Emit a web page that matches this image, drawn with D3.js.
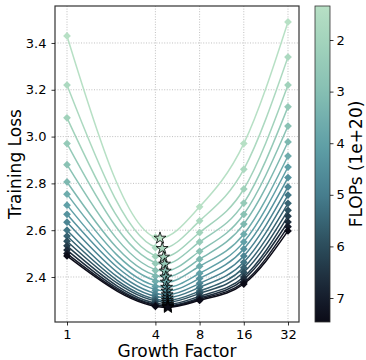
<!DOCTYPE html>
<html>
<head>
<meta charset="utf-8">
<script src="https://cdn.jsdelivr.net/npm/d3@7/dist/d3.min.js"></script>
<style>
  html, body { margin: 0; padding: 0; background: #fff; }
  svg { display: block; font-family: "DejaVu Sans", sans-serif; }
</style>
</head>
<body>
<svg id="chart" width="366" height="360"></svg>
<script>
// Growth factors at which each compute budget was evaluated
const growthFactors = [1, 4, 8, 16, 32];
const xTickValues = [1, 4, 8, 16, 32];
const yTickValues = [2.4, 2.6, 2.8, 3.0, 3.2, 3.4];
const cbarTickValues = [2, 3, 4, 5, 6, 7];

// Compute budgets (units of 1e20 FLOPs), one curve each
const flops = [1.34, 1.72, 2.11, 2.49, 2.87, 3.25, 3.64, 4.02, 4.40, 4.79, 5.17, 5.55, 5.93, 6.32, 6.70, 7.08, 7.47];

// Training loss per compute budget, one array per growth factor
const lossG1  = [3.43, 3.22, 3.08, 2.97, 2.88, 2.806, 2.754, 2.707, 2.668, 2.634, 2.60, 2.575, 2.553, 2.533, 2.515, 2.50, 2.49];
const lossG4  = [2.57, 2.525, 2.488, 2.458, 2.428, 2.403, 2.381, 2.359, 2.343, 2.327, 2.314, 2.303, 2.295, 2.286, 2.280, 2.277, 2.274];
const lossG8  = [2.70, 2.64, 2.59, 2.55, 2.51, 2.476, 2.446, 2.416, 2.394, 2.373, 2.356, 2.34, 2.33, 2.318, 2.31, 2.305, 2.30];
const lossG16 = [2.97, 2.86, 2.776, 2.716, 2.668, 2.626, 2.583, 2.55, 2.52, 2.49, 2.463, 2.44, 2.42, 2.40, 2.39, 2.377, 2.37];
const lossG32 = [3.49, 3.34, 3.22, 3.127, 3.045, 2.977, 2.917, 2.87, 2.825, 2.785, 2.75, 2.715, 2.685, 2.66, 2.635, 2.615, 2.597];

// Minimum of each fitted curve: optimal growth factor and its loss
const optimalGrowth = [4.3, 4.45, 4.55, 4.62, 4.67, 4.71, 4.74, 4.77, 4.79, 4.81, 4.82, 4.83, 4.84, 4.85, 4.86, 4.86, 4.87];
const optimalLoss   = [2.566, 2.522, 2.485, 2.455, 2.425, 2.40, 2.378, 2.356, 2.34, 2.324, 2.311, 2.30, 2.292, 2.283, 2.277, 2.274, 2.27];

const lossByGrowth = [lossG1, lossG4, lossG8, lossG16, lossG32];

const svg = d3.select("#chart");
const plot = { left: 55, right: 299, top: 6, bottom: 322 };
const cbar = { left: 315, right: 330, top: 6, bottom: 322 };

const x = d3.scaleLog().base(2)
  .domain([Math.pow(2, -0.2715), Math.pow(2, 5.249)])
  .range([plot.left, plot.right]);
const y = d3.scaleLinear()
  .domain([2.2077, 3.558])
  .range([plot.bottom, plot.top]);

// Colour map: light mint for small budgets down to near-black for large ones
const fMin = 1.341, fMax = 7.465;
const stopPos = [fMin, 2, 3, 4, 5, 6, 7, fMax];
const stopCol = ["#b7e0c5", "#a4d4bc", "#86bfb3", "#61a1a8", "#467e8e", "#2b4c5b", "#161d2c", "#0b0b17"];
const color = d3.scaleLinear().domain(stopPos).range(stopCol).interpolate(d3.interpolateRgb);

// Grid
const grid = svg.append("g");
grid.selectAll("line.gx").data(xTickValues).join("line")
  .attr("x1", d => x(d)).attr("x2", d => x(d))
  .attr("y1", plot.top).attr("y2", plot.bottom)
  .attr("stroke", "#b0b0b0").attr("stroke-width", 0.8).attr("stroke-dasharray", "1,1.6");
grid.selectAll("line.gy").data(yTickValues).join("line")
  .attr("y1", d => y(d)).attr("y2", d => y(d))
  .attr("x1", plot.left).attr("x2", plot.right)
  .attr("stroke", "#b0b0b0").attr("stroke-width", 0.8).attr("stroke-dasharray", "1,1.6");

// Fitted curves and measured points
const curves = flops.map((f, i) => ({
  f,
  points: growthFactors.map((g, j) => ({ g, loss: lossByGrowth[j][i] })),
  opt: { g: optimalGrowth[i], loss: optimalLoss[i] }
}));

const line = d3.line()
  .x(d => x(d.g)).y(d => y(d.loss))
  .curve(d3.curveMonotoneX);

const marks = svg.append("g");
curves.forEach(c => {
  const pathPts = [c.points[0], c.opt, ...c.points.slice(2)];
  marks.append("path")
    .attr("d", line(pathPts))
    .attr("fill", "none")
    .attr("stroke", color(c.f))
    .attr("stroke-width", 1.5);
  marks.selectAll(null).data(c.points).join("path")
    .attr("d", d3.symbol(d3.symbolSquare, 30)())
    .attr("transform", d => `translate(${x(d.g)},${y(d.loss)}) rotate(45)`)
    .attr("fill", color(c.f));
});

// Optimal growth factor for each budget
svg.append("g").selectAll("path").data(curves).join("path")
  .attr("d", d3.symbol(d3.symbolStar, 44)())
  .attr("transform", d => `translate(${x(d.opt.g)},${y(d.opt.loss)})`)
  .attr("fill", d => color(d.f))
  .attr("stroke", "#000")
  .attr("stroke-width", 0.8);

// Frame
svg.append("rect")
  .attr("x", plot.left).attr("y", plot.top)
  .attr("width", plot.right - plot.left).attr("height", plot.bottom - plot.top)
  .attr("fill", "none").attr("stroke", "#333").attr("stroke-width", 1.2);

// Axes
const xAxis = svg.append("g")
  .attr("transform", `translate(0,${plot.bottom})`)
  .call(d3.axisBottom(x).tickValues(xTickValues).tickFormat(d3.format("d")).tickSize(3.5).tickPadding(4));
const yAxis = svg.append("g")
  .attr("transform", `translate(${plot.left},0)`)
  .call(d3.axisLeft(y).tickValues(yTickValues).tickFormat(d3.format(".1f")).tickSize(3.5).tickPadding(5));
[xAxis, yAxis].forEach(a => {
  a.select(".domain").remove();
  a.selectAll("text").attr("font-size", 13).attr("font-family", "DejaVu Sans").attr("fill", "#000");
  a.selectAll("line").attr("stroke", "#000").attr("stroke-width", 0.8);
});

svg.append("text")
  .attr("x", (plot.left + plot.right) / 2).attr("y", 357)
  .attr("text-anchor", "middle").attr("font-size", 17)
  .text("Growth Factor");
svg.append("text")
  .attr("transform", `translate(21,${(plot.top + plot.bottom) / 2}) rotate(-90)`)
  .attr("text-anchor", "middle").attr("font-size", 17)
  .text("Training Loss");

// Colour bar
const cy = d3.scaleLinear().domain([fMin, fMax]).range([cbar.top, cbar.bottom]);
const defs = svg.append("defs");
const grad = defs.append("linearGradient").attr("id", "flopsGrad")
  .attr("x1", 0).attr("x2", 0).attr("y1", 0).attr("y2", 1);
d3.range(0, 1.0001, 0.05).forEach(t => {
  const v = fMin + t * (fMax - fMin);
  grad.append("stop").attr("offset", t).attr("stop-color", color(v));
});
svg.append("rect")
  .attr("x", cbar.left).attr("y", cbar.top)
  .attr("width", cbar.right - cbar.left).attr("height", cbar.bottom - cbar.top)
  .attr("fill", "url(#flopsGrad)")
  .attr("stroke", "#333").attr("stroke-width", 0.8);
const cAxis = svg.append("g")
  .attr("transform", `translate(${cbar.right},0)`)
  .call(d3.axisRight(cy).tickValues(cbarTickValues).tickFormat(d3.format("d")).tickSize(3.5).tickPadding(3));
cAxis.select(".domain").remove();
cAxis.selectAll("text").attr("font-size", 13).attr("font-family", "DejaVu Sans").attr("fill", "#000");
cAxis.selectAll("line").attr("stroke", "#000").attr("stroke-width", 0.8);

svg.append("text")
  .attr("transform", `translate(362,${(cbar.top + cbar.bottom) / 2}) rotate(-90)`)
  .attr("text-anchor", "middle").attr("font-size", 17)
  .text("FLOPs (1e+20)");
</script>
</body>
</html>
